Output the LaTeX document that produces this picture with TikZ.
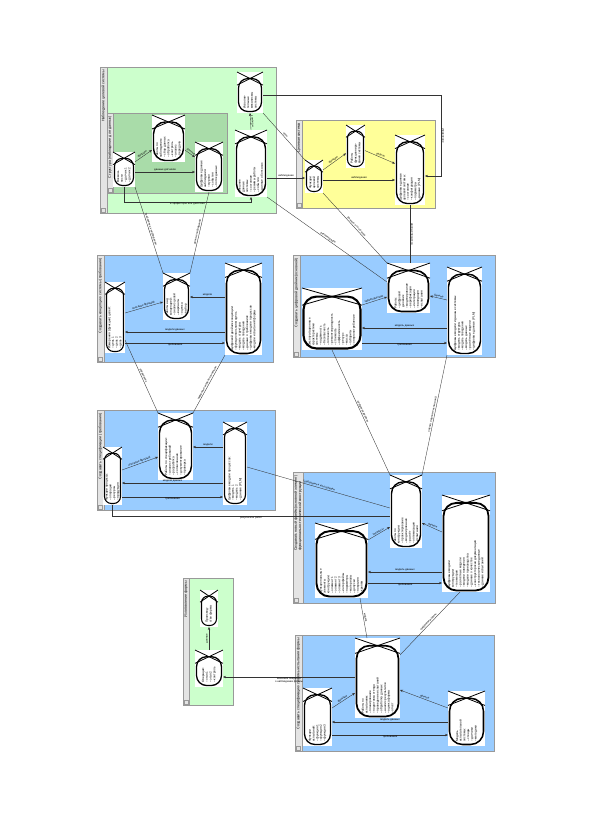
\documentclass[tikz,border=0pt]{standalone}
\usepackage{fontspec}
\setmainfont{Liberation Sans}
\usetikzlibrary{arrows.meta,calc,fit}
\definecolor{panelblue}{HTML}{99CCFF}
\definecolor{panelgreen}{HTML}{CCFFCC}
\definecolor{innergreen}{HTML}{A9DCA9}
\definecolor{panelyellow}{HTML}{FFFF99}
\definecolor{stripgrey}{HTML}{E4E4E4}

\tikzset{
  panelbox/.style={rectangle, draw=black!40, line width=0.4pt, inner sep=0pt, outer sep=0pt},
  stripbox/.style={draw=black!40, fill=stripgrey, line width=0.3pt},
  paneltitle/.style={rotate=90, anchor=east, align=left, inner sep=0pt,
    font=\fontsize{3.6}{4.1}\selectfont},
  capbox/.style={rectangle, fill=white, inner sep=0pt, outer sep=0pt},
  captext/.style={rotate=90, anchor=west, align=left, inner sep=0pt,
    font=\fontsize{3.1}{3.7}\selectfont},
  conn/.style={draw=black!80, line width=0.35pt},
  arr/.style={conn, -{Stealth[length=3pt,width=2.4pt]}},
  lbl/.style={font=\fontsize{2.7}{3.1}\selectfont, sloped, inner sep=0.6pt, align=center},
}

% panel: name, x1, y1, x2, y2, fill, strip width, title
\newcommand{\panel}[8]{%
  \node[panelbox, fill=#6, fit={(#2,#3) (#4,#5)}] (#1) {};
  \draw[stripbox] (#1.north west) rectangle ($(#1.south west)+(#7,0)$);
  \draw[stripbox] ($(#1.south west)+(1.2,-1.2)$) rectangle ++(3.5,-3.5);
  \node[paneltitle] at ($(#1.north west)+(#7/2,3)$) {#8};
}

% capsule: name, cx, cy, w, h, text
\newcommand{\capnode}[6]{%
  \node[capbox, minimum width=#4pt, minimum height=#5pt] (#1) at (#2,#3) {};
  \pgfmathsetmacro\capx{10+0.12*#4}%
  \pgfmathsetmacro\caphalf{0.5*\capx}%
  \pgfmathsetmacro\capr{min(0.36*#4,13)}%
  \pgfmathsetmacro\caplw{0.6+0.025*#4}%
  \draw[line width=\caplw pt, rounded corners=\capr pt]
    ($(#1.north west)+(1.5,\caphalf)$) rectangle ($(#1.south east)+(-1.5,-1.5)$);
  \draw[line width=0.8pt] (#1.north west) -- ($(#1.north east)+(0,\capx)$)
    (#1.north east) -- ($(#1.north west)+(0,\capx)$);
  \node[captext] at ($(#1.south)+(0,-4)$) {#6};
}

\begin{document}
\begin{tikzpicture}[x=1pt,y=-1pt]
  \fill[white] (0,0) rectangle (591,820);
  \useasboundingbox (0,0) rectangle (591,820);

  % Panels
  \panel{pObs}{100}{67}{276}{213}{panelgreen}{7}{Наблюдение целевой системы}
  \panel{pStruct}{107}{113}{227}{193}{innergreen}{6}{Структура (наблюдение для данных)}
  \panel{pTarget}{296}{120}{435}{208}{panelyellow}{6}{Целевая система}
  \panel{pConcept}{97}{255}{273}{362}{panelblue}{7}{Создавать концепцию системы (требования)}
  \panel{pTwin}{293}{255}{495}{357}{panelblue}{7}{Создавать цифровой двойник (основной)}
  \panel{pSpec}{97}{410}{275}{510}{panelblue}{7}{Создавать спецификации (требования)}
  \panel{pFrame}{293}{472}{495}{603}{panelblue}{10}{Создавать новый фрейм (основной элемент)\\функционально-технической конструкции}
  \panel{pTest}{295}{635}{494}{751}{panelblue}{7}{Создавать спецификацию системы испытания формы}
  \panel{pForm}{183}{578}{233}{705}{panelgreen}{6}{Изготовление формы}

  % Observation
  \capnode{N1}{124}{169.5}{22}{35}{Возмож-\\ности\\– датчик 1\\– датчик 2}
  \capnode{N2}{168.5}{138.5}{33}{47}{Работы по\\наблюдению:\\– сбор данных\\– обработка\\– контроль\\– анализ\\– передача}
  \capnode{N3}{209}{167}{28}{50}{Цифровые данные\\наблюдения:\\– журнал\\– события\\– поток данных}
  \capnode{N4}{251}{163.5}{32}{67}{Внешние\\данные\\системы:\\– состояние\\– режимы работы\\– события\\– данные об отказах}
  \capnode{N5}{250}{92.5}{26}{41}{Исполни-\\тельные\\механизмы\\системы}

  % Target system
  \capnode{Y1}{314}{176.5}{18}{33}{Функции\\целевой\\системы}
  \capnode{Y2}{355.5}{146.5}{19}{43}{Работы\\функциониро-\\вания системы}
  \capnode{Y3}{410}{170}{30}{70}{Цифровые данные\\целевой системы:\\– состояние\\– конфигурация\\– параметры\\– данные (PLM)}

  % Concept
  \capnode{B1a}{115}{317.5}{20}{71}{Измерения (функции) целей:\\– цель 1\\– цель 2\\– цель 3}
  \capnode{B1b}{176.5}{296.5}{27}{47}{Работы над\\концепцией:\\– анализ целей\\– варианты\\– оценка\\– выбор}
  \capnode{B1c}{243.5}{309}{37}{92}{Цифровой двойник концепции:\\– функциональная модель\\– модель структуры\\– модель поведения\\– данные о требованиях\\– цифровые модели процессов\\– модели испытаний формы}

  % Digital twin
  \capnode{B2a}{408.5}{288}{43}{50}{Работы:\\– цифровой\\\ \ двойник\\– моделирование\\– верификация\\– интеграция\\– валидация\\– испытания}
  \capnode{B2b}{332}{319}{60}{62}{Эксплуатационные\\характеристики\\системы:\\– надёжность\\– безопасность\\– готовность\\– ремонтопригодность\\– стоимость\\– эффективность\\– ресурс\\– масса\\– габариты\\– энергопотребление}
  \capnode{B2c}{464.5}{311}{35}{88}{Цифровые модели и данные системы:\\– модель структуры\\– модель поведения\\– модель данных\\– расчётные модели\\– цифровые данные (PLM)}

  % Specification
  \capnode{B3a}{112.5}{476}{19}{58}{Функции процесса:\\– операции\\– ресурсы\\– продукция}
  \capnode{B3b}{175.5}{446.5}{35}{67}{Работы по спецификации:\\– анализ требований\\– разработка\\– согласование\\– документирование\\– проверка}
  \capnode{B3c}{235}{463.5}{24}{83}{Цифровые модели процессов:\\– модель 1\\– модель 2\\– данные (PLM)}

  % Frame
  \capnode{B4a}{406}{511.5}{32}{73}{Работы по\\конструкции:\\– проектирование\\– моделирование\\– расчёт\\– оптимизация\\– испытания}
  \capnode{B4b}{341.5}{560.5}{53}{75}{Функциональные\\элементы\\конструкции:\\– элемент 1\\– элемент 2\\– элемент 3\\– интерфейсы\\– параметры\\– материалы\\– допуски\\– покрытия\\– крепёж}
  \capnode{B4c}{466}{543.5}{48}{97}{Цифровые модели\\конструкции:\\– геометрия\\– расчётные модели\\– модели поведения\\– модели производства\\– данные о качестве\\– конструкторская документация\\– технологические данные\\– данные испытаний}

  % Test
  \capnode{B5a}{377.5}{678}{45}{80}{Работы по\\испытаниям:\\– планирование\\– подготовка стенда\\– проведение испытаний\\– обработка данных\\– анализ результатов\\– оценка формы\\– отчёт}
  \capnode{B5b}{317.5}{717}{29}{58}{Функции\\испытаний:\\– функция 1\\– функция 2\\– функция 3}
  \capnode{B5c}{466.5}{718.5}{37}{55}{Модель\\испытательной\\системы:\\– стенды\\– датчики\\– методики}

  % Form
  \capnode{G1}{209}{608.5}{18}{37}{Производ-\\ство формы}
  \capnode{G2}{209}{668.5}{28}{37}{Операции:\\– этап 1\\– этап 2\\– контроль}

  % Observation links
  \draw[arr] (N1) -- node[lbl,above] {функции} (N2);
  \draw[arr] (N2) -- node[lbl,above] {данные} (N3);
  \draw[arr] (N1.east |- 0,172) -- node[lbl,above] {данные датчиков} (N3.west |- 0,172);
  \draw[arr] (N1.south) -- (N1.south |- 0,202) -- node[lbl,below] {в эффекторы или действия} (N4.south |- 0,202) -- (N4.south);
  \draw[arr] (N4.north) -- node[lbl,above] {команды} (N5.south);
  \draw[arr] (N5.east |- 0,95) -- (441,95) -- node[lbl,above] {управление} (441,176) -- (Y3.east |- 0,176);
  \draw[arr] (N4.east |- 0,178) -- node[lbl,above] {наблюдение} (Y1.west |- 0,178);
  \draw[conn] (N5.south east) -- node[lbl,above] {цель} (Y1.north west);

  % Target links
  \draw[arr] (Y1) -- node[lbl,above] {функции} (Y2);
  \draw[arr] (Y2) -- node[lbl,above] {работы} (Y3);
  \draw[arr] (Y1.east |- 0,180) -- node[lbl,above] {наблюдения} (Y3.west |- 0,180);
  \draw[conn] (N4.south east) -- node[lbl,above] {рекомендации} (B2a.west |- 0,282);
  \draw[conn] (Y1.south east) -- node[lbl,above] {данные о состоянии} (B2a.north west);
  \draw[conn] (Y3.south) -- node[lbl,above] {данные процесса} (Y3.south |- B2a.north);
  \draw[conn] (N1.south east) -- node[lbl,above] {требования к наблюдению} (B1b.north west);
  \draw[conn] (N3.south) -- node[lbl,above] {данные наблюдений} (B1b.north east);

  % Concept links
  \draw[arr] (B1a.east |- 0,313) -- node[lbl,above] {описание функций} (B1b.west |- 0,302);
  \draw[arr] (B1c.west |- 0,297) -- node[lbl,above] {модели} (B1b.east |- 0,297);
  \draw[arr] (B1c.west |- 0,332) -- node[lbl,above] {модели данных} (B1a.east |- 0,332);
  \draw[arr] (B1a.east |- 0,343) -- node[lbl,below] {требования} (B1c.west |- 0,343);
  \draw[conn] (B1a.east |- 0,340) -- node[lbl,above] {управление} (B3b.north west);
  \draw[conn] (B1c.south west) -- node[lbl,above] {цифровые модели концепции} (B3b.north east);

  % Twin links
  \draw[arr] (B2b.east |- 0,305) -- node[lbl,above] {характеристики} (B2a.west |- 0,297);
  \draw[arr] (B2c.west |- 0,300) -- node[lbl,above] {данные} (B2a.east |- 0,296);
  \draw[arr] (B2c.west |- 0,328) -- node[lbl,above] {модель данных} (B2b.east |- 0,328);
  \draw[arr] (B2b.east |- 0,343) -- node[lbl,below] {требования} (B2c.west |- 0,343);
  \draw[conn] (B2b.south) -- node[lbl,above] {цифровой двойник} (B4a.north west);
  \draw[conn] (B2c.south west) -- node[lbl,above] {оценка и данные испытаний} (B4a.north east);

  % Specification links
  \draw[arr] (B3a.east |- 0,470) -- node[lbl,above] {описание функций} (B3b.west |- 0,457);
  \draw[arr] (B3c.west |- 0,447) -- node[lbl,above] {модели} (B3b.east |- 0,447);
  \draw[arr] (B3c.west |- 0,483) -- node[lbl,above] {модели данных} (B3a.east |- 0,483);
  \draw[arr] (B3a.east |- 0,497) -- node[lbl,below] {требования} (B3c.west |- 0,497);
  \draw[conn] (B3c.east |- 0,467) -- node[lbl,above] {требования к конструкции} (B4a.west |- 0,508);
  \draw[conn] (B3a.south) -- (B3a.south |- 0,516) -- node[lbl,below] {результаты работ} (B4a.west |- 0,516);

  % Frame links
  \draw[arr] (B4b.east |- 0,540) -- node[lbl,above] {элементы} (B4a.west |- 0,527);
  \draw[arr] (B4c.west |- 0,532) -- node[lbl,above] {данные} (B4a.east |- 0,523);
  \draw[arr] (B4c.west |- 0,572) -- node[lbl,above] {модель данных} (B4b.east |- 0,572);
  \draw[arr] (B4b.east |- 0,583) -- node[lbl,below] {требования} (B4c.west |- 0,583);
  \draw[conn] (360,0 |- B4b.south) -- node[lbl,above] {модель} ($(B5a.north west)+(12,0)$);
  \draw[conn] (460,0 |- B4c.south) -- node[lbl,above] {цифровая модель} (B5a.east |- 0,655);

  % Test links
  \draw[arr] (B5b.east |- 0,708) -- node[lbl,above] {функции} (B5a.west |- 0,693);
  \draw[arr] (B5c.west |- 0,708) -- node[lbl,above] {данные} (B5a.east |- 0,690);
  \draw[arr] (B5c.west |- 0,722) -- node[lbl,above] {модель данных} (B5b.east |- 0,722);
  \draw[arr] (B5b.east |- 0,735) -- node[lbl,below] {требования} (B5c.west |- 0,735);
  \draw[arr] (B5a.west |- 0,677) -- node[lbl,below] {внешние сведения\\о наблюдении формы} (G2.east |- 0,677);
  \draw[arr] (G2.north) -- node[lbl,above] {данные} (G1.south);
\end{tikzpicture}
\end{document}
